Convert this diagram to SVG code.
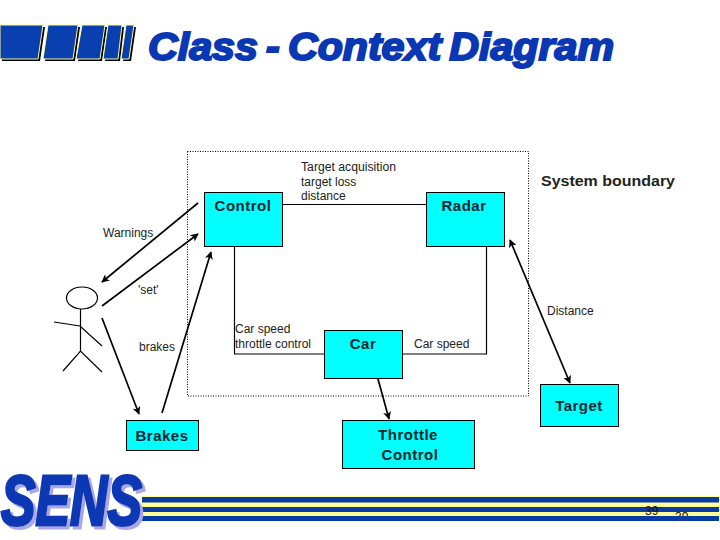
<svg xmlns="http://www.w3.org/2000/svg" width="720" height="540" viewBox="0 0 720 540">
<style>
.n{fill:#00ffff;stroke:#000;stroke-width:1}
.b{font:bold 15px "Liberation Sans",Arial,sans-serif;fill:#06262c;text-anchor:middle;letter-spacing:.5px}
.l{font:12px "Liberation Sans",Arial,sans-serif;fill:#222}
.c{fill:none;stroke:#000;stroke-width:1.2}
.a{fill:none;stroke:#000;stroke-width:1.7}
.s{fill:#0a3fb0;stroke:#ffff99;stroke-width:1}
.t{fill:#0a3aa4}
</style>
<defs>
<marker id="h" viewBox="0 0 10 10" refX="9" refY="5" markerWidth="9" markerHeight="8" markerUnits="userSpaceOnUse" orient="auto-start-reverse"><path d="M0 0L10 5L0 10L2.500 5Z" fill="#000"/></marker>
<filter id="sh" x="-5%" y="-5%" width="110%" height="115%"><feDropShadow dx="3" dy="3" stdDeviation="0" flood-color="#a8a8e8"/></filter>
<g id="bars"><polygon points="0,25 43,25 38,59 0,59"/><polygon points="48,25 78,25 73,59 43,59"/><polygon points="82,25 105,25 100,59 76,59"/><polygon points="108,25 122,25 118,59 103,59"/><polygon points="126,25 134,25 129,59 121,59"/></g>
</defs>
<rect width="720" height="540" fill="#fff"/>
<g id="logo-bars">
<use href="#bars" fill="#000" transform="translate(2,2)"/>
<use href="#bars" class="s"/>
</g>
<text id="title" x="148" y="60" font-family="'Liberation Sans',Arial,sans-serif" font-size="38" font-weight="bold" font-style="italic" word-spacing="-3" fill="#0a38b4" stroke="#0a38b4" stroke-width="2" textLength="466" lengthAdjust="spacingAndGlyphs">Class - Context Diagram</text>
<rect id="system-boundary" x="187.500" y="151.500" width="341" height="244.500" fill="none" stroke="#000" stroke-width="1" stroke-dasharray="1 1.500"/>
<text class="l" x="541" y="186" style="font-weight:bold;font-size:14px" textLength="134" lengthAdjust="spacingAndGlyphs">System boundary</text>
<g id="connectors">
<path class="c" d="M282 204.500H426"/>
<path class="c" d="M234.500 246V354H324"/>
<path class="c" d="M403 354H486.500V246"/>
<path class="a" marker-start="url(#h)" d="M102 282L198 203"/>
<path class="a" marker-end="url(#h)" d="M102 306L198 234"/>
<path class="a" marker-end="url(#h)" d="M102 318L139 414"/>
<path class="a" marker-end="url(#h)" d="M162 413L211 252"/>
<path class="a" marker-end="url(#h)" d="M378 379L389 419"/>
<path class="a" marker-start="url(#h)" marker-end="url(#h)" d="M510 240L570 383"/>
</g>
<g id="labels">
<text class="l" x="301" y="171" textLength="95" lengthAdjust="spacingAndGlyphs">Target acquisition</text>
<text class="l" x="301" y="186">target loss</text>
<text class="l" x="301" y="200">distance</text>
<text class="l" x="103" y="237">Warnings</text>
<text class="l" x="138" y="294">'set'</text>
<text class="l" x="139" y="351">brakes</text>
<text class="l" x="547" y="315">Distance</text>
<text class="l" x="235" y="333">Car speed</text>
<text class="l" x="235" y="348">throttle control</text>
<text class="l" x="414" y="348">Car speed</text>
</g>
<g id="actor" fill="none" stroke="#000" stroke-width="1.200">
<ellipse cx="82" cy="298" rx="15.500" ry="11"/>
<path d="M80.500 309V351M54 322L80 326L102 346M63 371L80.500 351L102 372"/>
</g>
<g id="control"><rect class="n" x="204.500" y="192.500" width="78" height="54"/><text class="b" x="243" y="211">Control</text></g>
<g id="radar"><rect class="n" x="426.500" y="192.500" width="78" height="54"/><text class="b" x="464" y="211">Radar</text></g>
<g id="car"><rect class="n" x="324.500" y="330.500" width="78" height="48"/><text class="b" x="363" y="349">Car</text></g>
<g id="target"><rect class="n" x="540.500" y="384.500" width="78" height="42"/><text class="b" x="579" y="411">Target</text></g>
<g id="brakes"><rect class="n" x="126.500" y="420.500" width="72" height="30"/><text class="b" x="162" y="441">Brakes</text></g>
<g id="throttle"><rect class="n" x="342.500" y="420.500" width="132" height="48"/><text class="b" x="408" y="440">Throttle</text><text class="b" x="410" y="460">Control</text></g>
<g id="footer">
<rect x="142" y="496" width="578" height="21" fill="#ffff99"/>
<text x="675" y="521" font-family="'Liberation Sans',Arial,sans-serif" font-size="12" fill="#111">39</text>
<rect class="t" x="142" y="497" width="577" height="5.500"/>
<rect class="t" x="142" y="507" width="577" height="5"/>
<rect class="t" x="142" y="516" width="577" height="5"/>
<text x="645" y="515" font-family="'Liberation Sans',Arial,sans-serif" font-size="12" fill="#111">39</text>
<text x="1" y="525" font-family="'Liberation Sans',Arial,sans-serif" font-size="70" font-weight="bold" font-style="italic" fill="#0a38b4" stroke="#0a38b4" stroke-width="3" textLength="141" lengthAdjust="spacingAndGlyphs" filter="url(#sh)">SENS</text>
</g>
</svg>
